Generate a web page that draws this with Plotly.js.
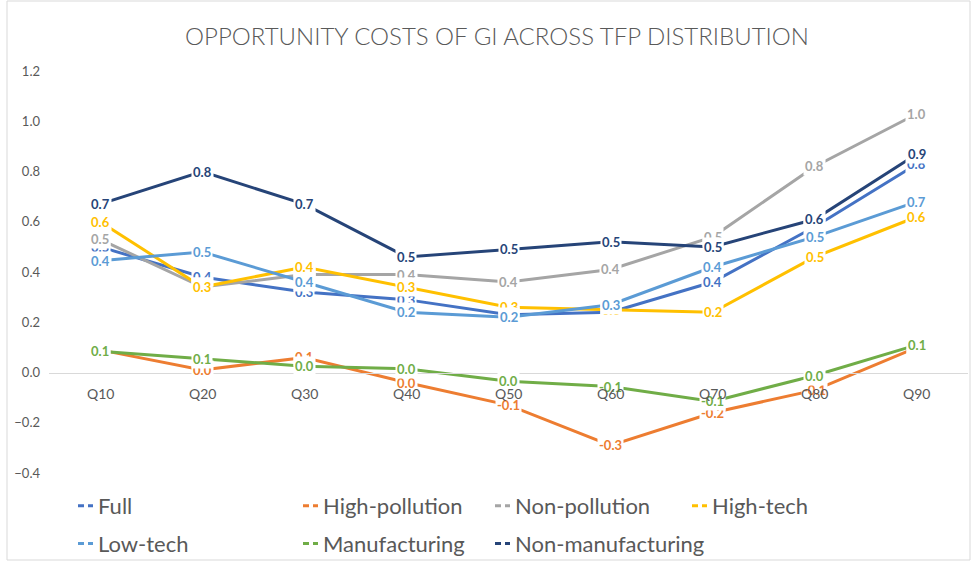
<!DOCTYPE html>
<html>
<head>
<meta charset="utf-8">
<script src="https://cdn.plot.ly/plotly-3.0.1.min.js"></script>
<style>html,body{margin:0;padding:0;background:#fff;}#chart{width:974px;height:562px;}</style>
</head>
<body>
<div id="chart"></div>
<script>
const categories = ['Q10','Q20','Q30','Q40','Q50','Q60','Q70','Q80','Q90'];
const full             = [0.50, 0.38, 0.32, 0.29, 0.23, 0.24, 0.36, 0.58, 0.83];
const highPollution    = [0.09, 0.01, 0.06, -0.04, -0.13, -0.29, -0.16, -0.07, 0.10];
const nonPollution     = [0.53, 0.34, 0.39, 0.39, 0.36, 0.41, 0.54, 0.82, 1.03];
const highTech         = [0.60, 0.34, 0.42, 0.34, 0.26, 0.25, 0.24, 0.46, 0.62];
const lowTech          = [0.445, 0.48, 0.36, 0.24, 0.22, 0.27, 0.42, 0.54, 0.68];
const manufacturing    = [0.085, 0.055, 0.025, 0.015, -0.035, -0.056, -0.115, -0.012, 0.11];
const nonManufacturing = [0.67, 0.80, 0.67, 0.46, 0.49, 0.52, 0.50, 0.61, 0.87];
const seriesNames = ['Full','High-pollution','Non-pollution','High-tech','Low-tech','Manufacturing','Non-manufacturing'];
const titleText = 'OPPORTUNITY COSTS OF GI ACROSS TFP DISTRIBUTION';

const seriesData = [full, highPollution, nonPollution, highTech, lowTech, manufacturing, nonManufacturing];
const colors = ['#4472C4','#ED7D31','#A5A5A5','#FFC000','#5B9BD5','#70AD47','#264478'];
const legendOf = ['legend','legend2','legend3','legend4','legend','legend2','legend3'];
const FONT = 'Lato, "Open Sans", sans-serif';

// plot area in pixels
const L = 49, R = 6, T = 71, B = 89, W = 974, H = 562;
const pw = W - L - R, ph = H - T - B;
const px2x = p => (p - L) / pw;
const py2y = p => (H - B - p) / ph;

const traces = [];
seriesData.forEach((d, i) => {
  traces.push({
    type: 'scatter', mode: 'lines', x: categories, y: d, name: seriesNames[i],
    line: {color: colors[i], width: 3}, showlegend: false, hoverinfo: 'skip'
  });
});
seriesData.forEach((d, i) => {
  traces.push({
    type: 'scatter', mode: 'lines', x: [null], y: [null], name: seriesNames[i],
    line: {color: colors[i], width: 3, dash: '0px,15px,6px,4px,6px,100px'}, showlegend: true,
    legend: legendOf[i], legendgroup: 'g' + i
  });
});

const fmt = v => { let s = v.toFixed(1); return s === '-0.0' ? '0.0' : s; };
const annotations = [];
seriesData.forEach((d, i) => {
  d.forEach((v, j) => {
    annotations.push({
      x: categories[j], y: v, xref: 'x', yref: 'y', text: '<b>' + fmt(v) + '</b>',
      showarrow: false, font: {family: FONT, size: 13, color: colors[i]},
      bgcolor: 'rgba(255,255,255,1)', borderpad: 1, xanchor: 'center', yanchor: 'middle'
    });
  });
});
// category labels drawn on top, sitting under the zero line
categories.forEach(c => {
  annotations.push({
    x: c, y: 0, xref: 'x', yref: 'y', text: c, showarrow: false, yshift: -21,
    font: {family: FONT, size: 14, color: '#595959'}, xanchor: 'center', yanchor: 'middle'
  });
});

const legendCommon = {
  orientation: 'v', yanchor: 'top', xanchor: 'left', bgcolor: 'rgba(0,0,0,0)',
  font: {family: FONT, size: 22, color: '#595959'}, tracegroupgap: 6, itemwidth: 30
};
const legY = py2y(485);

const layout = {
  width: W, height: H,
  margin: {l: L, r: R, t: T, b: B, autoexpand: false},
  paper_bgcolor: '#fff', plot_bgcolor: '#fff',
  font: {family: FONT, color: '#595959'},
  title: {text: titleText, x: 497 / W, xref: 'container', xanchor: 'center',
          y: 1 - 37 / H, yref: 'container', yanchor: 'middle',
          font: {family: FONT, size: 24, color: '#595959', weight: 300}},
  xaxis: {type: 'category', range: [-0.5, 8.5], anchor: 'free', position: 0.4 / 1.6,
          showline: true, linecolor: '#D9D9D9', linewidth: 1, showgrid: false, zeroline: false,
          ticks: '', showticklabels: false, fixedrange: true},
  yaxis: {range: [-0.4, 1.2], dtick: 0.2, tick0: 0, tickformat: '.1f', showgrid: false,
          zeroline: false, showline: false, ticks: '',
          tickfont: {family: FONT, size: 13, color: '#595959'}, ticklabelstandoff: 8},
  legend:  Object.assign({}, legendCommon, {x: px2x(58), y: legY}),
  legend2: Object.assign({}, legendCommon, {x: px2x(283), y: legY}),
  legend3: Object.assign({}, legendCommon, {x: px2x(475), y: legY}),
  legend4: Object.assign({}, legendCommon, {x: px2x(672), y: legY}),
  annotations: annotations,
  shapes: [{type: 'rect', xref: 'paper', yref: 'paper',
            x0: px2x(7), x1: px2x(970), y0: py2y(560), y1: py2y(1),
            line: {color: '#D9D9D9', width: 1}, fillcolor: 'rgba(0,0,0,0)', layer: 'below'}],
  showlegend: true
};

Plotly.newPlot('chart', traces, layout, {displayModeBar: false, staticPlot: true});
</script>
</body>
</html>
